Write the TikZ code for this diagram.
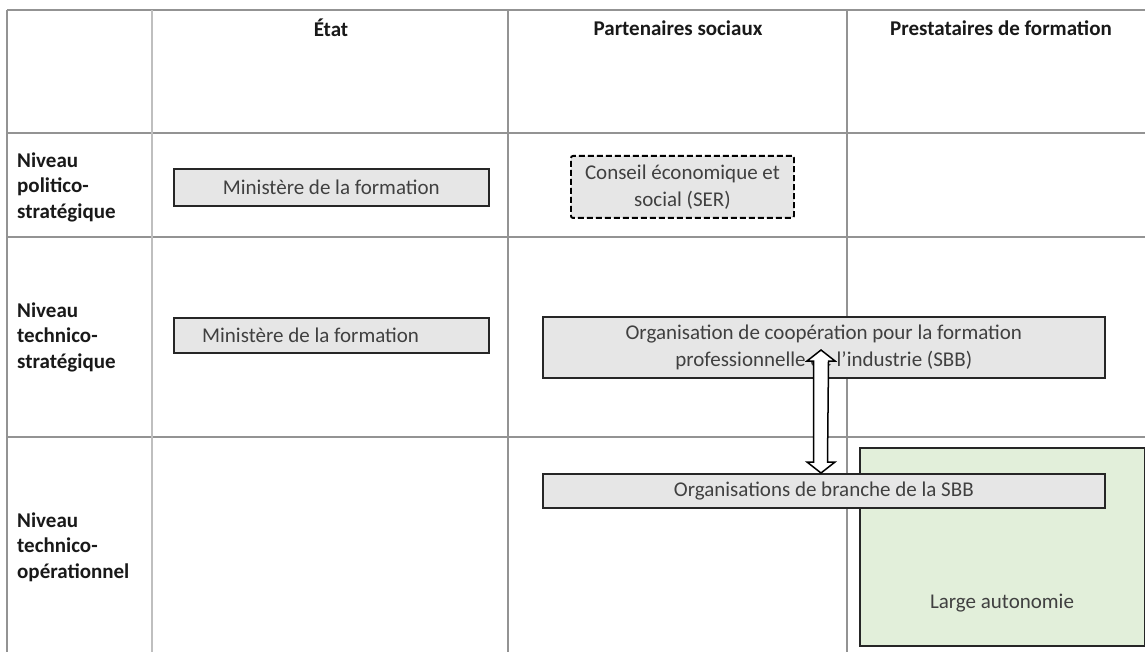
\documentclass[tikz,border=0pt]{standalone}
\usepackage{fontspec}
\setmainfont{Carlito}
\usetikzlibrary{calc}
\definecolor{boxfill}{HTML}{E6E6E6}
\definecolor{greenfill}{HTML}{E2EFDA}
\definecolor{boxtext}{HTML}{404040}
\begin{document}
\begin{tikzpicture}[x=1pt,y=-1pt,
  grid/.style={draw=gray!85, line width=1.2pt},
  gridthick/.style={draw=gray!50, line width=2.8pt},
  head/.style={font=\fontsize{21}{25.5}\selectfont\bfseries, text=black!90, anchor=center},
  lvl/.style={font=\fontsize{21}{25.5}\selectfont\bfseries, text=black!90, align=left, anchor=west, inner sep=0},
  boxa/.style={draw=black!85, line width=1.6pt, fill=boxfill, text=boxtext, align=center,
     font=\fontsize{21}{27}\selectfont, inner sep=0, anchor=north west},
  dashbox/.style={boxa, draw=black, line width=1.9pt, rounded corners=2pt, dash pattern=on 6pt off 3pt},
  greenbox/.style={draw=black!85, line width=1.6pt, fill=greenfill, inner sep=0, anchor=north west},
  plain/.style={font=\fontsize{21}{27}\selectfont, text=boxtext},
  dblarrow/.style={draw=black, line width=1.5pt, fill=white, line join=miter}
]
\useasboundingbox (0,0) rectangle (1145,652);
\fill[white] (0,0) rectangle (1145,652);
% grid
\draw[grid] (7,10) -- (1145,10);
\draw[grid] (7,133) -- (1145,133);
\draw[grid] (7,237) -- (1145,237);
\draw[grid] (7,437) -- (1145,437);
\draw[grid] (7,10) -- (7,652);
\draw[gridthick] (152,10) -- (152,652);
\draw[grid] (508,10) -- (508,652);
\draw[grid] (847,10) -- (847,652);
% headers
\node[head] (hetat) at (331,28) {État};
\node[head] (hpart) at (678,28) {Partenaires sociaux};
\node[head] (hprest) at (1001,28) {Prestataires de formation};
% level labels
\node[lvl] (l1) at (17,187) {Niveau\\politico-\\stratégique};
\node[lvl] (l2) at (17,337) {Niveau\\technico-\\stratégique};
\node[lvl] (l3) at (17,547) {Niveau\\technico-\\opérationnel};
% boxes
\node[boxa, minimum width=315, minimum height=37] (min1) at (173,168) {Ministère de la formation};
\node[dashbox, minimum width=223, minimum height=62] (ser) at (570,155) {Conseil économique et\\social (SER)};
\node[boxa, minimum width=315, minimum height=35] (min2) at (173,317) {};
\node[plain, anchor=west, inner sep=0] (min2txt) at ($(min2.west)+(29,0)$) {Ministère de la formation};
\node[boxa, minimum width=562, minimum height=61] (sbb) at (542,316) {Organisation de coopération pour la formation\\professionnelle de l’industrie (SBB)};
\node[greenbox, minimum width=285, minimum height=198] (auto) at (859,447) {};
\node[plain] (autotxt) at (1002,603) {Large autonomie};
\node[boxa, minimum width=562, minimum height=34] (branche) at (542,473) {Organisations de branche de la SBB};
% double arrow between sbb and branche
\coordinate (atop) at (821,350);
\coordinate (abot) at (branche.north -| atop);
\draw[dblarrow] (atop) -- ++(14,11) -- ++(-6.5,0) -- ($(abot)+(6.5,-11)$) -- ++(7.5,0) -- (abot)
  -- ++(-14,-11) -- ++(6.5,0) -- ($(atop)+(-7.5,11)$) -- ++(-6.5,0) -- cycle;
\end{tikzpicture}
\end{document}
